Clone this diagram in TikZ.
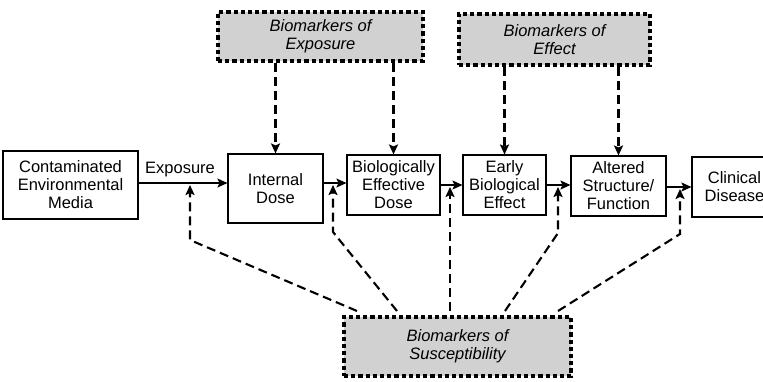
\documentclass[tikz,border=0pt]{standalone}
\usepackage{fontspec}
\setmainfont{Liberation Sans}
\usetikzlibrary{arrows.meta}
\tikzset{
  plainbox/.style={draw=black, line width=1.1pt, fill=white, align=center, inner sep=0pt,
    font=\fontsize{16.5}{18}\selectfont},
  markerbox/.style={draw=black, line width=4.2pt, dash pattern=on 4.2pt off 3pt,
    fill=black!18, align=center, inner sep=0pt, font=\fontsize{16.5}{18}\selectfont\itshape},
  flow/.style={line width=1.2pt, -{Stealth[length=10pt,width=9pt,inset=2pt]}},
  dlink/.style={line width=2.1pt, dash pattern=on 9pt off 5pt,
    -{Stealth[length=10pt,width=9pt,inset=2pt]}},
}
\begin{document}
\begin{tikzpicture}[x=1pt,y=-1pt]
\useasboundingbox (0,0) rectangle (763,381);
\clip (0,0) rectangle (763,381);
% solid boxes
\node[plainbox, minimum width=135pt, minimum height=68pt] (cem) at (70.5,185) {Contaminated\\Environmental\\Media};
\node[plainbox, minimum width=95pt, minimum height=69pt] (id) at (275.5,188.5) {Internal\\Dose};
\node[plainbox, minimum width=93pt, minimum height=60pt] (bed) at (393.5,185) {Biologically\\Effective\\Dose};
\node[plainbox, minimum width=83pt, minimum height=60pt] (ebe) at (504.5,185) {Early\\Biological\\Effect};
\node[plainbox, minimum width=95pt, minimum height=60pt] (asf) at (618.5,186) {Altered\\Structure/\\Function};
\node[plainbox, minimum width=85pt, minimum height=60pt] (cd) at (734.5,187) {Clinical\\Disease};
% marker boxes
\node[markerbox, minimum width=205pt, minimum height=49pt] (boe) at (320.5,36.5) {Biomarkers of\\Exposure};
\node[markerbox, minimum width=191pt, minimum height=51pt] (boef) at (554.5,39.5) {Biomarkers of\\Effect};
\node[markerbox, minimum width=227pt, minimum height=59pt] (bos) at (457.5,346.5) {Biomarkers of\\Susceptibility};
% exposure label
\node[font=\fontsize{16.5}{18}\selectfont] (explbl) at (180,170) {Exposure};
% horizontal flow
\coordinate (y1) at (0,183);
\coordinate (y2) at (0,185);
\coordinate (y3) at (0,187);
\draw[flow] (cem.east |- y1) -- (id.west |- y1);
\draw[flow] (id.east |- y1) -- (bed.west |- y1);
\draw[flow] (bed.east |- y2) -- (ebe.west |- y2);
\draw[flow] (ebe.east |- y2) -- (asf.west |- y2);
\draw[flow] (asf.east |- y3) -- (cd.west |- y3);
% top markers
\draw[dlink] (id.north |- boe.south) -- (id.north);
\draw[dlink] (bed.north |- boe.south) -- (bed.north);
\draw[dlink] (ebe.north |- boef.south) -- (ebe.north);
\draw[dlink] (asf.north |- boef.south) -- (asf.north);
% susceptibility links
\coordinate (s1) at (357,311);
\coordinate (b1) at (190,240);
\coordinate (t1) at (190,185);
\coordinate (s2) at (397,311);
\coordinate (b2) at (333,232);
\coordinate (t2) at (333,185);
\coordinate (s3) at (450,311);
\coordinate (t3) at (450,187);
\coordinate (s4) at (505,311);
\coordinate (b4) at (558,233);
\coordinate (t4) at (558,187);
\coordinate (s5) at (558,311);
\coordinate (b5) at (680,234);
\coordinate (t5) at (680,189);
\draw[dlink] (s1) -- (b1) -- (t1);
\draw[dlink] (s2) -- (b2) -- (t2);
\draw[dlink] (s3) -- (t3);
\draw[dlink] (s4) -- (b4) -- (t4);
\draw[dlink] (s5) -- (b5) -- (t5);
\end{tikzpicture}
\end{document}
